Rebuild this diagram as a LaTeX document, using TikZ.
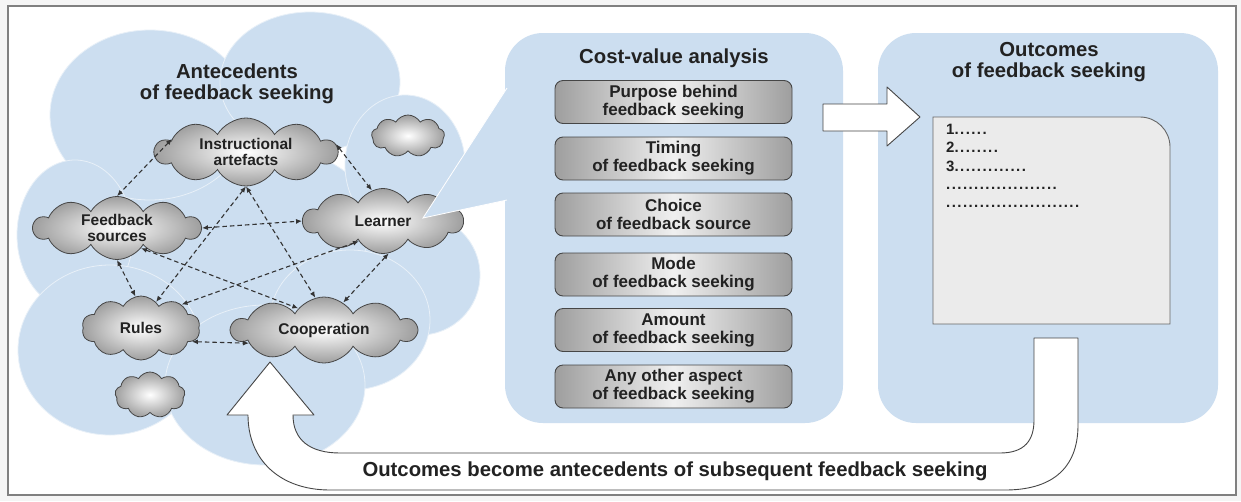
\documentclass[tikz,border=0pt]{standalone}
\usepackage{fontspec}
\setmainfont{Liberation Sans}
\usetikzlibrary{shapes.symbols,arrows.meta}

\definecolor{paleblue}{RGB}{204,222,240}
\definecolor{edgegray}{RGB}{70,70,70}
\definecolor{inkgray}{RGB}{34,34,34}

\newcommand{\dotrun}[1]{\foreach \k in {1,...,#1}{\makebox[5.6pt][l]{.}}}

\tikzset{
	lobe/.style={fill=paleblue, draw=white!55!paleblue, line width=0.8pt},
	puff/.style={cloud, cloud puffs=10, cloud puff arc=120, cloud ignores aspect, draw=edgegray, line width=0.8pt, inner color=white, outer color=black!38, font=\bfseries\fontsize{15.5}{16}\selectfont, align=center, text=inkgray, inner sep=0pt},
	panel/.style={fill=paleblue, rounded corners=38pt, minimum height=390, inner sep=0pt},
	aspectbox/.style={draw=edgegray, line width=0.9pt, rounded corners=8pt, minimum width=237, minimum height=43, left color=black!38, right color=black!38, middle color=black!6, font=\bfseries\fontsize{17}{18}\selectfont, align=center, text=inkgray, inner sep=0pt},
	link/.style={>={Latex[length=6pt,width=5pt]}, <->, dash pattern=on 4.5pt off 3pt, line width=1.1pt, draw=black!80},
	blockarrow/.style={fill=white, draw=edgegray, line width=0.9pt, line join=round},
	heading/.style={font=\bfseries\fontsize{20.3}{21}\selectfont, align=center, text=inkgray, inner sep=0pt},
}

\begin{document}
\begin{tikzpicture}[x=1pt,y=1pt,yscale=-1,xscale=1]
	\useasboundingbox (0,0) rectangle (1241,501);
	\fill[black!4] (0,0) rectangle (1241,501);
	\draw[black!50, line width=1.2pt, fill=white] (8,6) rectangle (1236,495);
	
	% big cloud of antecedents
	\draw[lobe] (240,250) ellipse [x radius=150, y radius=110];
	\draw[lobe] (150,115) ellipse [x radius=100, y radius=85];
	\draw[lobe] (310,82) ellipse [x radius=90, y radius=70];
	\draw[lobe] (405,165) ellipse [x radius=60, y radius=70];
	\draw[lobe] (75,235) ellipse [x radius=58, y radius=75];
	\draw[lobe] (420,275) ellipse [x radius=60, y radius=60];
	\draw[lobe] (350,320) ellipse [x radius=80, y radius=70];
	\draw[lobe] (110,350) ellipse [x radius=92, y radius=85];
	\draw[lobe] (265,385) ellipse [x radius=100, y radius=80];
	
	\node[heading] (antetitle) at (237,84) {Antecedents\\of feedback seeking};
	
	% panels
	\node[panel, minimum width=338] (cva) at (674,228) {};
	\node[panel, minimum width=340] (outc) at (1048,228) {};
	\node[heading] (cvatitle) at (674,58) {Cost-value analysis};
	\node[heading] (outctitle) at (1049,62) {Outcomes\\of feedback seeking};
	
	% clouds
	\node[puff, minimum width=182, minimum height=68] (instr) at (246,152) {Instructional\\artefacts};
	\node[puff, minimum width=167, minimum height=63] (fbsrc) at (117,228) {Feedback\\sources};
	\node[puff, minimum width=160, minimum height=65] (learner) at (383,221) {Learner};
	\node[puff, minimum width=118, minimum height=64] (rules) at (141,328) {Rules};
	\node[puff, minimum width=185, minimum height=66] (coop) at (324,330) {Cooperation};
	\node[puff, cloud puffs=9, minimum width=73, minimum height=42] (blobA) at (408,136) {};
	\node[puff, cloud puffs=9, minimum width=70, minimum height=46] (blobB) at (150,395) {};
	
	% wedge from learner to the analysis
	\fill[paleblue] (423,218) -- (507,88) -- (507,200) -- cycle;
	\draw[white, line width=0.8pt] (507,88) -- (423,218) -- (507,200);
	
	% links between antecedents
	\draw[link] (instr.170) -- (fbsrc.north);
	\draw[link] (instr.5) -- (learner.110);
	\draw[link] (fbsrc.east) -- (learner.west);
	\draw[link] (instr.south) -- (rules.60);
	\draw[link] (instr.south) -- (coop.105);
	\draw[link] (fbsrc.south) -- (rules.100);
	\draw[link] (fbsrc.-40) -- (coop.140);
	\draw[link] (learner.220) -- (rules.30);
	\draw[link] (learner.-80) -- (coop.55);
	\draw[link] (rules.-15) -- (coop.190);
	
	% aspects of the cost-value analysis
	\node[aspectbox] (purpose) at (673.5,102) {Purpose behind\\feedback seeking};
	\node[aspectbox] (timing) at (673.5,158.5) {Timing\\of feedback seeking};
	\node[aspectbox] (choice) at (673.5,214.5) {Choice\\of feedback source};
	\node[aspectbox] (mode) at (673.5,274.5) {Mode\\of feedback seeking};
	\node[aspectbox] (amount) at (673.5,330) {Amount\\of feedback seeking};
	\node[aspectbox] (other) at (673.5,386.5) {Any other aspect\\of feedback seeking};
	
	% outcome list
	\draw[fill=black!8, draw=black!60, line width=0.9pt] (933,324) -- (933,117) -- (1140,117) arc[start angle=-90, end angle=0, radius=30] -- (1170,324) -- cycle;
	\node[anchor=north west, align=left, inner sep=0pt, text=inkgray, font=\bfseries\fontsize{15}{18.3}\selectfont] (items) at (946,124) {1\dotrun{6}\\2\dotrun{8}\\3\dotrun{13}\\\dotrun{20}\\\dotrun{24}};
	
	% block arrows
	\draw[blockarrow] (823,104) -- (887,104) -- (887,87) -- (920,117) -- (887,146) -- (887,131) -- (823,131) -- cycle;
	\draw[blockarrow] (1034,338) -- (1078,338) -- (1078,425) .. controls (1078,470) and (1050,490) .. (1005,490) -- (330,490) .. controls (280,490) and (248,460) .. (248,415) -- (227,415) -- (270,362) -- (314,415) -- (293,415) .. controls (293,440) and (310,453) .. (340,453) -- (1000,453) .. controls (1025,453) and (1034,440) .. (1034,420) -- cycle;
	\node[heading] (loop) at (675,471) {Outcomes become antecedents of subsequent feedback seeking};
	
\end{tikzpicture}
\end{document}
